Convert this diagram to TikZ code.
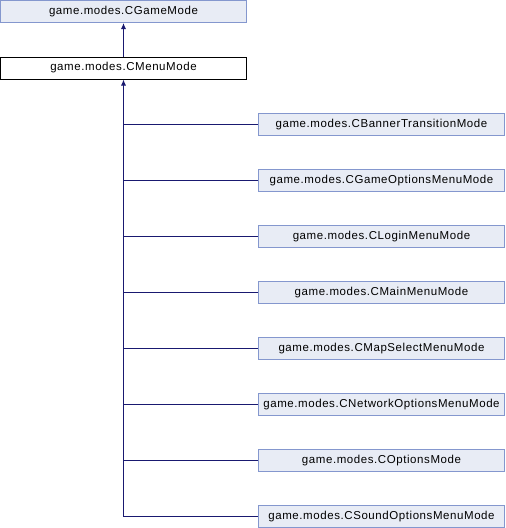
\documentclass[tikz,border=0pt]{standalone}
\usepackage{fontspec}
\setmainfont{Liberation Sans}[LetterSpace=5]
\usetikzlibrary{arrows.meta}

\definecolor{boxfill}{HTML}{E8ECF5}
\definecolor{boxline}{HTML}{8497CE}
\definecolor{edgeblue}{HTML}{191970}

\tikzset{
  cls/.style={rectangle, draw=boxline, fill=boxfill, line width=1pt, minimum width=246pt, minimum height=22pt, inner sep=0pt, font=\fontsize{11.5}{13}\selectfont},
  cur/.style={cls, draw=black, fill=white},
  edge/.style={draw=edgeblue, line width=1pt},
  inh/.style={edge, {Latex[length=6pt,width=5pt]}-}
}

\begin{document}
\begin{tikzpicture}[x=1pt,y=-1pt]
\useasboundingbox (0,0) rectangle (506,528);
\node[cls] (gamemode) at (123.5,11.5) {game.modes.CGameMode};
\node[cur] (menumode) at (123.5,68) {game.modes.CMenuMode};
\node[cls] (banner) at (381.5,124.5) {game.modes.CBannerTransitionMode};
\node[cls] (gameopts) at (381.5,180.5) {game.modes.CGameOptionsMenuMode};
\node[cls] (login) at (381.5,236.5) {game.modes.CLoginMenuMode};
\node[cls] (mainmenu) at (381.5,292.5) {game.modes.CMainMenuMode};
\node[cls] (mapsel) at (381.5,348.5) {game.modes.CMapSelectMenuMode};
\node[cls] (netopts) at (381.5,404.5) {game.modes.CNetworkOptionsMenuMode};
\node[cls] (options) at (381.5,460.5) {game.modes.COptionsMode};
\node[cls] (soundopts) at (381.5,516.5) {game.modes.CSoundOptionsMenuMode};
\draw[inh] (gamemode.south) -- (menumode.north);
\draw[inh] (menumode.south) |- (soundopts.west);
\draw[edge] (banner.west) -- (banner.west -| menumode.south);
\draw[edge] (gameopts.west) -- (gameopts.west -| menumode.south);
\draw[edge] (login.west) -- (login.west -| menumode.south);
\draw[edge] (mainmenu.west) -- (mainmenu.west -| menumode.south);
\draw[edge] (mapsel.west) -- (mapsel.west -| menumode.south);
\draw[edge] (netopts.west) -- (netopts.west -| menumode.south);
\draw[edge] (options.west) -- (options.west -| menumode.south);
\end{tikzpicture}
\end{document}
